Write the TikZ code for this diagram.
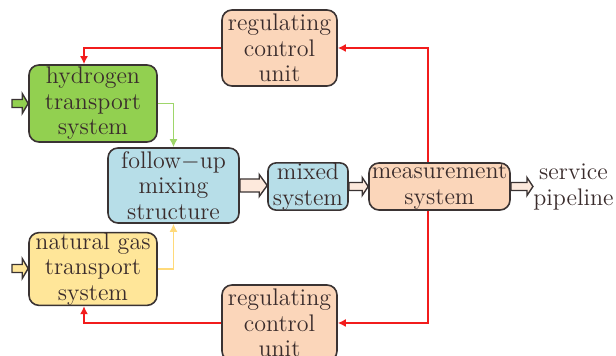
\documentclass[tikz,border=0pt]{standalone}
\usetikzlibrary{calc,arrows.meta}
\definecolor{txt}{HTML}{3A2C2C}
\definecolor{edge}{HTML}{3A3333}
\definecolor{hgreen}{HTML}{92D050}
\definecolor{gyellow}{HTML}{FFE699}
\definecolor{mblue}{HTML}{B7DEE8}
\definecolor{peach}{HTML}{FBD6BA}
\definecolor{arrfill}{HTML}{FDE9DC}
\definecolor{gline}{HTML}{9ED66A}
\definecolor{yline}{HTML}{FFDA7A}
\definecolor{rline}{HTML}{F21C1C}

% block arrow: style, start, end, shaft half-height, head half-height, head length
\newcommand\blockarrow[6]{%
  \draw[#1] let \p1=(#2), \p2=(#3) in
    (\x1,\y1-#4) -- (\x2-#6,\y1-#4) -- (\x2-#6,\y1-#5) -- (\x2,\y1)
    -- (\x2-#6,\y1+#5) -- (\x2-#6,\y1+#4) -- (\x1,\y1+#4) -- cycle;}

\begin{document}
\begin{tikzpicture}[x=0.5pt,y=-0.5pt,
  font=\fontsize{12}{12.8}\selectfont,
  box/.style={draw=edge, line width=0.8pt, rounded corners=5pt,
    align=center, inner sep=0pt, text=txt},
  barrow/.style={draw=edge, line width=0.7pt, fill=arrfill},
  feed/.style={line width=0.75pt, -{Latex[length=4pt,width=4pt]}}]
\clip (0,0) rectangle (616,356);
\useasboundingbox (0,0) rectangle (616,356);

% processing blocks
\node[box, fill=peach, minimum width=57.5pt, minimum height=38pt] (reg1) at (279.5,48) {regulating\\control\\unit};
\node[box, fill=peach, minimum width=57.5pt, minimum height=38pt] (reg2) at (279.5,323) {regulating\\control\\unit};
\node[box, fill=hgreen, minimum width=64pt, minimum height=38.5pt] (h2) at (93,103.5) {hydrogen\\transport\\system};
\node[box, fill=gyellow, minimum width=64pt, minimum height=36pt] (ng) at (93,269) {natural gas\\transport\\system};
\node[box, fill=mblue, minimum width=65.5pt, minimum height=37.5pt] (mix) at (173.5,185.5) {follow$-$up\\mixing\\structure};
\node[box, fill=mblue, minimum width=40pt, minimum height=23.5pt, rounded corners=4pt] (mixed) at (308,186.5) {mixed\\system};
\node[box, fill=peach, minimum width=70.5pt, minimum height=23.5pt] (meas) at (439.5,186.5) {measurement\\system};
\node[align=center, inner sep=0pt, text=txt] (pipe) at (573.5,187) {service\\pipeline};

% gas inlets
\coordinate (inH) at (12,103.5);
\coordinate (inN) at (12,268.5);
\blockarrow{barrow, fill=hgreen}{inH}{h2.west}{2pt}{5pt}{3pt}
\blockarrow{barrow, fill=gyellow}{inN}{ng.west}{2pt}{5pt}{3pt}

% main flow
\blockarrow{barrow}{mix.east}{mixed.west}{3.25pt}{5.5pt}{4pt}
\blockarrow{barrow}{mixed.east}{meas.west}{2pt}{4.5pt}{3pt}
\blockarrow{barrow}{meas.east}{pipe.west}{2pt}{4.5pt}{3pt}

% gas feeds into the mixing structure
\draw[feed, gline] (h2.east) -| (mix.north);
\draw[feed, yline] (ng.east) -| (mix.south);

% control loops
\draw[feed, rline] ([xshift=-5.75pt]meas.north) |- (reg1.east);
\draw[feed, rline] (reg1.west) -| ([xshift=-4.5pt]h2.north);
\draw[feed, rline] ([xshift=-5.75pt]meas.south) |- (reg2.east);
\draw[feed, rline] (reg2.west) -| ([xshift=-4.5pt]ng.south);
\end{tikzpicture}
\end{document}
